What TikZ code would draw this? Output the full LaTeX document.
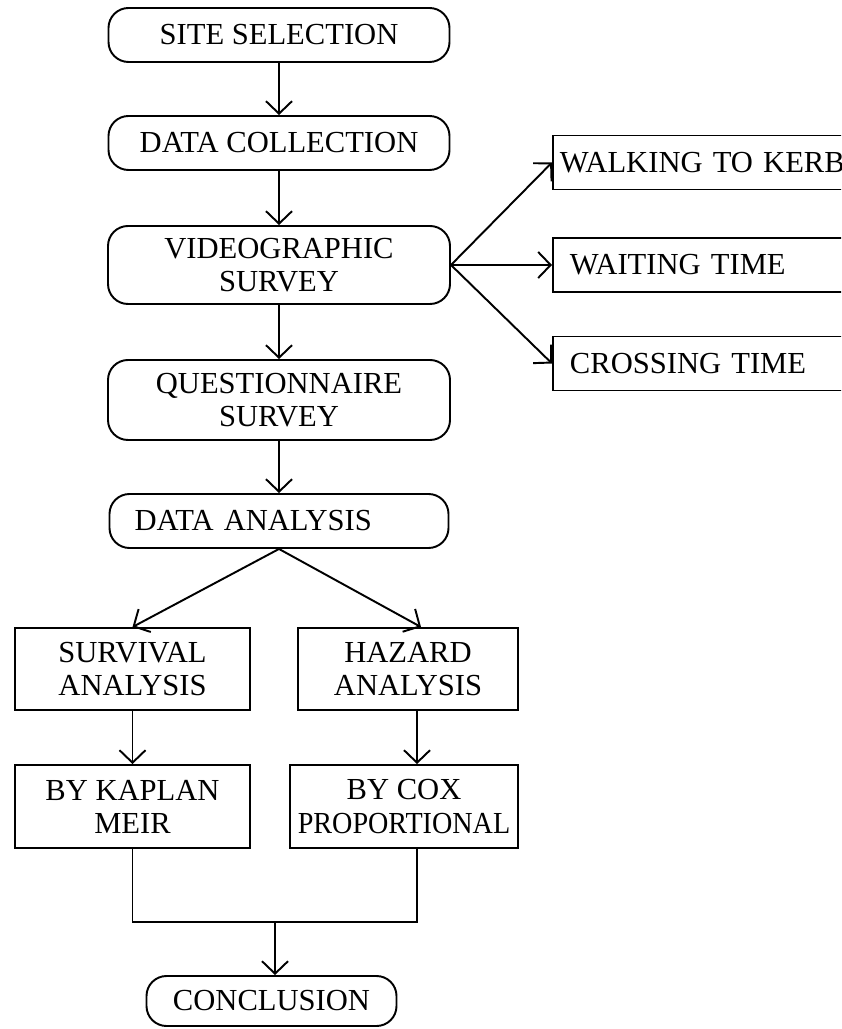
\documentclass[tikz,border=0pt]{standalone}
\usepackage{fontspec}
\setmainfont{Liberation Serif}
\usetikzlibrary{arrows.meta}

\begin{document}
\begin{tikzpicture}[
    line width=0.55pt,
    every node/.style={font=\fontsize{8.7}{9.4}\selectfont},
    >={Straight Barb[length=1.25mm,width=2.6mm,line width=0.55pt]},
    roundbox/.style={draw, rounded corners=0.2cm, align=center, inner sep=0pt},
    squarebox/.style={draw, align=center, inner sep=0pt},
    sidebox/.style={draw, anchor=west, minimum height=0.54cm, text width=3.2cm, align=left}
  ]
    \useasboundingbox (0,0) rectangle (8.41,-10.29);
    \clip (0,0) rectangle (8.41,-10.29);

    % main column
    \node[roundbox, minimum width=3.41cm, minimum height=0.54cm] (site) at (2.79,-0.35) {SITE SELECTION};
    \node[roundbox, minimum width=3.41cm, minimum height=0.54cm] (coll) at (2.79,-1.43) {DATA COLLECTION};
    \node[roundbox, minimum width=3.42cm, minimum height=0.78cm] (video) at (2.79,-2.65) {VIDEOGRAPHIC\\SURVEY};
    \node[roundbox, minimum width=3.42cm, minimum height=0.80cm] (quest) at (2.79,-4.00) {QUESTIONNAIRE\\SURVEY};
    \node[roundbox, minimum height=0.54cm, text width=2.89cm, align=left, inner xsep=0.25cm] (anal) at (2.79,-5.21) {DATA ANALYSIS};

    % survey outputs
    \node[sidebox, inner xsep=0.07cm] (walk) at (5.52,-1.625) {WALKING TO KERB};
    \node[sidebox, inner xsep=0.17cm] (wait) at (5.52,-2.65) {WAITING TIME};
    \node[sidebox, inner xsep=0.17cm] (cross) at (5.52,-3.635) {CROSSING TIME};

    % two branches of the analysis
    \node[squarebox, minimum width=2.35cm, minimum height=0.82cm] (surv) at (1.325,-6.69) {SURVIVAL\\ANALYSIS};
    \node[squarebox, minimum width=2.20cm, minimum height=0.82cm] (haz) at (4.08,-6.69) {HAZARD\\ANALYSIS};
    \node[squarebox, minimum width=2.35cm, minimum height=0.83cm] (kap) at (1.325,-8.065) {BY KAPLAN\\MEIR};
    \node[squarebox, minimum width=2.28cm, minimum height=0.83cm] (cox) at (4.04,-8.065) {BY COX\\\scalebox{0.92}[1]{PROPORTIONAL}};

    \node[roundbox, minimum width=2.50cm, minimum height=0.50cm] (concl) at (2.715,-10.01) {CONCLUSION};
    \coordinate (merge) at (2.75,-9.22);

    % connectors
    \draw[->] (site) -- (coll);
    \draw[->] (coll) -- (video);
    \draw[->] (video) -- (quest);
    \draw[->] (quest) -- (anal);
    \foreach \out in {walk,wait,cross}
        \draw[->] (video.east) -- (\out.west);
    \draw[->] (anal.south) -- (surv.north);
    \draw[->] (anal.south) -- ([xshift=0.13cm]haz.north);
    \draw[->] (surv) -- (kap);
    \draw[->] ([xshift=0.09cm]haz.south) -- ([xshift=0.13cm]cox.north);
    \draw (kap.south) |- (merge) -| ([xshift=0.13cm]cox.south);
    \draw[->] (merge) -- (concl.north -| merge);
\end{tikzpicture}
\end{document}
